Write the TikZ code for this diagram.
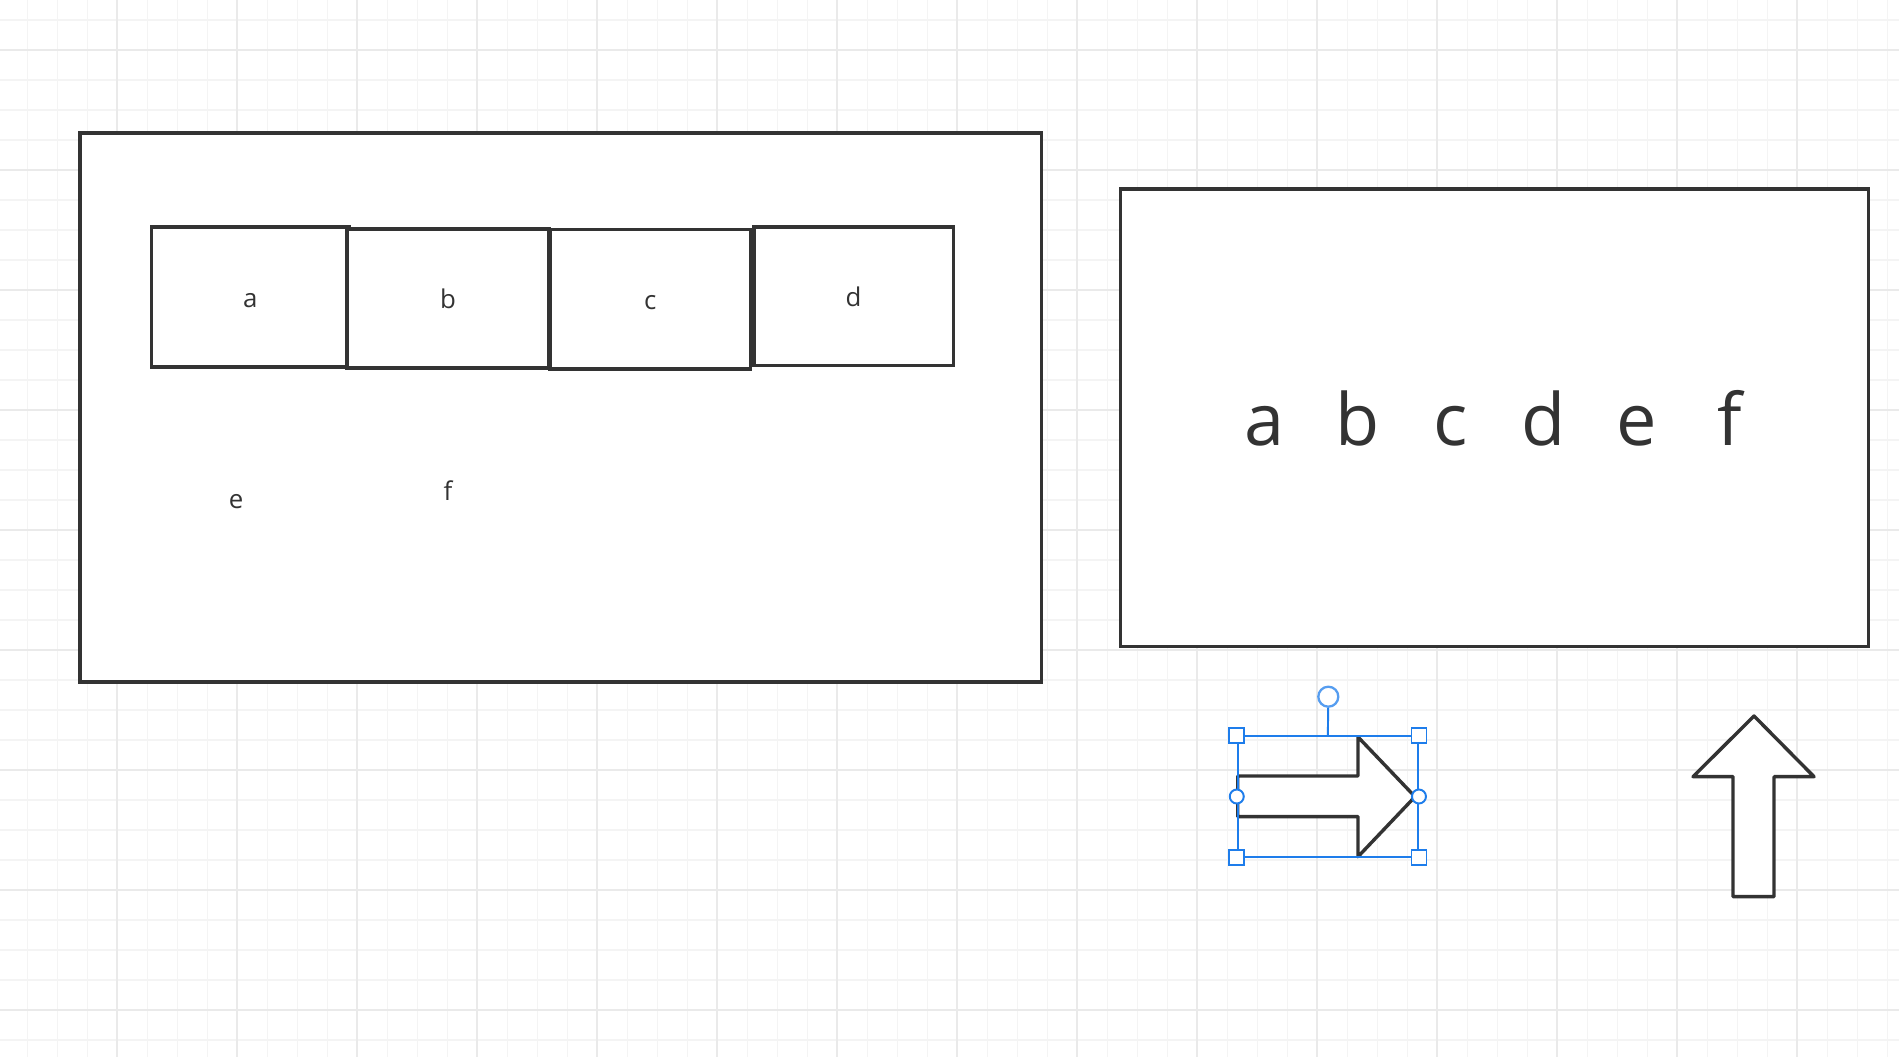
\documentclass[tikz,border=0pt]{standalone}
\usepackage{fontspec}
\setmainfont{Open Sans}
\usetikzlibrary{calc}

\definecolor{ink}{RGB}{51,51,51}
\definecolor{gridminor}{RGB}{244,244,244}
\definecolor{gridmajor}{RGB}{234,234,234}
\definecolor{pick}{RGB}{30,125,235}

\begin{document}
\begin{tikzpicture}[x=0.02cm, y=-0.02cm,
    frame/.style ={rectangle, draw=ink, fill=white, line width=1.95pt, inner sep=0pt},
    cell/.style ={frame, text=ink, font=\fontsize{14.7}{17}\selectfont, text height=0.42cm, text depth=0pt},
    small/.style ={text=ink, font=\fontsize{14.7}{17}\selectfont, anchor=base, inner sep=0pt},
    big/.style ={text=ink, font=\fontsize{41}{48}\selectfont, anchor=base, inner sep=0pt},
    arrowbody/.style ={draw=ink, fill=white, line width=1.95pt, line join=round},
    selbox/.style ={rectangle, draw=pick, line width=1.1pt, inner sep=0pt},
    grip/.style ={rectangle, draw=pick, fill=white, line width=1.1pt, minimum size=0.3cm, inner sep=0pt},
    dot/.style ={circle, draw=pick, fill=white, line width=1.1pt, minimum size=0.28cm, inner sep=0pt},
    knob/.style ={circle, draw=pick!75, fill=white, line width=1.3pt, minimum size=0.4cm, inner sep=0pt}]
   \useasboundingbox (0,0) rectangle (1899,1057);
   \fill[white] (0,0) rectangle (1899,1057);

   % grid
   \foreach \i in {0,...,62} \draw[gridminor, line width=0.9pt] (27.3+30*\i,0) -- (27.3+30*\i,1057);
   \foreach \j in {0,...,34} \draw[gridminor, line width=0.9pt] (0,20+30*\j) -- (1899,20+30*\j);
   \foreach \i in {0,...,14} \draw[gridmajor, line width=1.1pt] (117.3+120*\i,0) -- (117.3+120*\i,1057);
   \foreach \j in {0,...,8} \draw[gridmajor, line width=1.1pt] (0,50+120*\j) -- (1899,50+120*\j);

   % left panel
   \node[frame, minimum width=19.23cm, minimum height=10.98cm] (outer) at (560.75,407.5) {};
   \node[cell, minimum width=3.946cm, minimum height=2.8cm] (a) at (250.35,296.85) {a};
   \node[cell, minimum width=4.04cm, minimum height=2.78cm] (b) at (448,298.5) {b};
   \node[cell, minimum width=4.014cm, minimum height=2.794cm] (c) at (650.35,299.15) {c};
   \node[cell, minimum width=3.986cm, minimum height=2.774cm] (d) at (853.65,296.35) {d};
   \node[small] (e) at (236,508) {e};
   \node[small] (f) at (448,500.7) {f};

   % right panel
   \node[frame, minimum width=14.968cm, minimum height=9.156cm] (panel) at (1494.5,417.8) {};
   \foreach \l [count=\i] in {a,b,c,d,e,f}
      \node[big] (big\l) at (1264.6+93.1*\i-93.1,445) {\l};

   % right arrow, selected
   \draw[arrowbody] (1237.7,776) -- (1358,776) -- (1358,737) -- (1415,796.7)
      -- (1358,856.7) -- (1358,816.7) -- (1237.7,816.7) -- cycle;
   \node[selbox, minimum width=3.606cm, minimum height=2.42cm] (sel) at (1327.85,796.5) {};
   \node[knob] (rot) at (1328.3,696.7) {};
   \draw[pick, line width=1.1pt] (rot) -- (sel.north);
   \node[grip] (g1) at (sel.north west) {};
   \node[grip] (g2) at (sel.north east) {};
   \node[grip] (g3) at (sel.south west) {};
   \node[grip] (g4) at (sel.south east) {};
   \node[dot] (m1) at (sel.west) {};
   \node[dot] (m2) at (sel.east) {};

   % up arrow
   \draw[arrowbody] (1733,896.7) -- (1733,776.7) -- (1693,776.7) -- (1754,716)
      -- (1814,776.7) -- (1774,776.7) -- (1774,896.7) -- cycle;
 \end{tikzpicture}
\end{document}
